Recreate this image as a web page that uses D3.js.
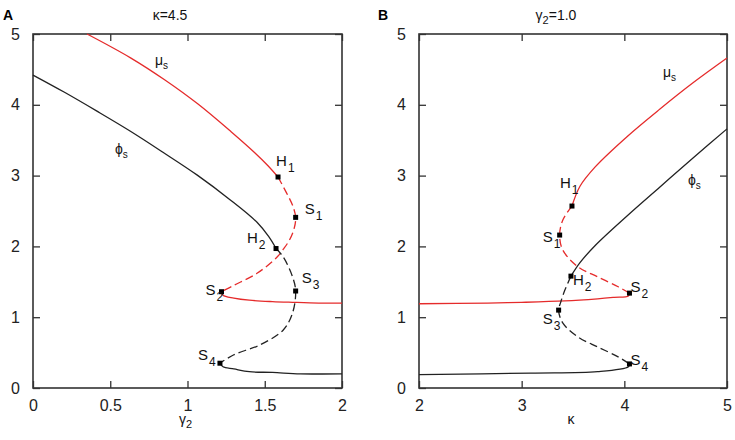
<!DOCTYPE html>
<html>
<head>
<meta charset="utf-8">
<script src="https://cdn.jsdelivr.net/npm/d3@7"></script>
<style>
  body { margin: 0; background: #fff; }
  svg { font-family: "Liberation Sans", Arial, sans-serif; }
</style>
</head>
<body>
<div class="chart"></div>
<script>
// panel A: kappa = 4.5, x = gamma2
const muA_stable1 = [[0.35,5.0],[0.634,4.66],[0.854,4.35],[1.068,4.01],[1.282,3.62],[1.437,3.32],[1.521,3.14],[1.586,2.98]];
const muA_unstable = [[1.586,2.98],[1.64,2.76],[1.68,2.58],[1.70,2.41],[1.69,2.25],[1.66,2.09],[1.62,1.96],[1.58,1.85],[1.45,1.62],[1.30,1.45],[1.22,1.36]];
const muA_stable2 = [[1.22,1.36],[1.23,1.31],[1.30,1.27],[1.40,1.24],[1.55,1.22],[1.68,1.21],[1.85,1.20],[2.0,1.20]];
const phiA_stable1 = [[0,4.42],[0.201,4.18],[0.414,3.91],[0.628,3.63],[0.841,3.33],[1.061,3.01],[1.275,2.66],[1.45,2.34],[1.525,2.14],[1.573,1.97]];
const phiA_unstable = [[1.573,1.97],[1.62,1.85],[1.68,1.57],[1.70,1.37],[1.68,1.06],[1.62,0.82],[1.47,0.61],[1.30,0.47],[1.21,0.35]];
const phiA_stable2 = [[1.21,0.35],[1.23,0.30],[1.30,0.27],[1.40,0.23],[1.55,0.22],[1.73,0.20],[2.0,0.20]];
const pointsA = [
  {name: 'H', sub: '1', x: 1.586, y: 2.98},
  {name: 'S', sub: '1', x: 1.70, y: 2.41},
  {name: 'H', sub: '2', x: 1.573, y: 1.97},
  {name: 'S', sub: '2', x: 1.22, y: 1.36},
  {name: 'S', sub: '3', x: 1.70, y: 1.37},
  {name: 'S', sub: '4', x: 1.21, y: 0.35}
];

// panel B: gamma2 = 1.0, x = kappa
const muB_stable1 = [[5,4.66],[4.669,4.31],[4.347,3.94],[4.026,3.55],[3.714,3.12],[3.568,2.85],[3.49,2.57]];
const muB_unstable = [[3.49,2.57],[3.40,2.37],[3.37,2.16],[3.40,1.95],[3.55,1.71],[3.74,1.57],[3.94,1.43],[4.05,1.34]];
const muB_stable2 = [[4.05,1.34],[4.04,1.30],[3.90,1.28],[3.74,1.26],[3.42,1.23],[3.0,1.21],[2.67,1.20],[2,1.19]];
const phiB_stable1 = [[5,3.66],[4.669,3.25],[4.347,2.84],[4.026,2.43],[3.714,2.01],[3.568,1.77],[3.48,1.58]];
const phiB_unstable = [[3.48,1.58],[3.42,1.38],[3.38,1.21],[3.36,1.10],[3.40,0.92],[3.55,0.72],[3.74,0.58],[3.94,0.44],[4.05,0.34]];
const phiB_stable2 = [[4.05,0.34],[4.04,0.30],[3.74,0.23],[3.09,0.21],[2,0.19]];
const pointsB = [
  {name: 'H', sub: '1', x: 3.49, y: 2.57},
  {name: 'S', sub: '1', x: 3.37, y: 2.16},
  {name: 'H', sub: '2', x: 3.48, y: 1.58},
  {name: 'S', sub: '2', x: 4.05, y: 1.34},
  {name: 'S', sub: '3', x: 3.36, y: 1.10},
  {name: 'S', sub: '4', x: 4.05, y: 0.34}
];

const ticksA = [0, 0.5, 1, 1.5, 2];
const ticksB = [2, 3, 4, 5];
const ticksY = [0, 1, 2, 3, 4, 5];

const red = '#e52b2b';
const black = '#222';

const svg = d3.select('.chart')
  .append('svg')
  .attr('width', 735)
  .attr('height', 440);

const yScale = d3.scaleLinear().domain([0, 5]).range([388, 34]);

function panel(opt) {
  const x = d3.scaleLinear().domain(opt.domain).range(opt.range);
  const g = svg.append('g');

  const xAxis = d3.axisBottom(x).tickValues(opt.ticks).tickFormat(d3.format('')).tickSizeInner(-7).tickSizeOuter(0).tickPadding(12);
  const xTop = d3.axisTop(x).tickValues(opt.ticks).tickFormat('').tickSizeInner(-7).tickSizeOuter(0);
  const yAxis = d3.axisLeft(yScale).tickValues(ticksY).tickFormat(d3.format('')).tickSizeInner(-7).tickSizeOuter(0).tickPadding(13);
  const yRight = d3.axisRight(yScale).tickValues(ticksY).tickFormat('').tickSizeInner(-7).tickSizeOuter(0);

  g.append('g').attr('transform', 'translate(0,388)').call(xAxis);
  g.append('g').attr('transform', 'translate(0,34)').call(xTop);
  g.append('g').attr('transform', `translate(${opt.range[0]},0)`).call(yAxis);
  g.append('g').attr('transform', `translate(${opt.range[1]},0)`).call(yRight);

  g.selectAll('.domain').remove();
  g.selectAll('.tick line').attr('stroke', '#333').attr('stroke-width', 1.3);
  g.selectAll('.tick text').attr('font-size', 16).attr('fill', '#222')
    .attr('font-family', '"Liberation Sans", Arial, sans-serif');

  g.append('rect')
    .attr('x', opt.range[0]).attr('y', 34)
    .attr('width', opt.range[1] - opt.range[0]).attr('height', 354)
    .attr('fill', 'none').attr('stroke', '#333').attr('stroke-width', 1.6);

  const line = d3.line()
    .curve(d3.curveCatmullRom)
    .x(d => x(d[0]))
    .y(d => yScale(d[1]));

  opt.curves.forEach(c => {
    g.append('path')
      .datum(c.data)
      .attr('d', line)
      .attr('fill', 'none')
      .attr('stroke', c.color)
      .attr('stroke-width', 1.3)
      .attr('stroke-dasharray', c.dashed ? '8,4' : null);
  });

  g.selectAll('.marker')
    .data(opt.points)
    .enter()
    .append('rect')
    .attr('x', d => x(d.x) - 2.5)
    .attr('y', d => yScale(d.y) - 2.5)
    .attr('width', 5).attr('height', 5)
    .attr('fill', '#000');

  opt.points.forEach((p, i) => {
    const off = opt.labelOffsets[i];
    const t = g.append('text')
      .attr('x', x(p.x) + off[0])
      .attr('y', yScale(p.y) + off[1])
      .attr('font-size', 15)
      .attr('fill', '#111');
    t.append('tspan').text(p.name);
    t.append('tspan').attr('font-size', 12).attr('dx', 1).attr('dy', 6).text(p.sub);
  });

  opt.curveLabels.forEach(c => {
    const t = g.append('text')
      .attr('x', c.x).attr('y', c.y)
      .attr('font-size', 14)
      .attr('fill', '#111');
    t.append('tspan').text(c.text);
    t.append('tspan').attr('font-size', 10).attr('dy', 4).text('s');
  });

  g.append('text')
    .attr('x', opt.range[0] + 137).attr('y', 20)
    .attr('text-anchor', 'middle')
    .attr('font-size', 14)
    .attr('fill', '#111')
    .call(t => {
      t.append('tspan').text(opt.title[0]);
      if (opt.title[1]) t.append('tspan').attr('font-size', 11).attr('dy', 4).text(opt.title[1]);
      t.append('tspan').attr('dy', opt.title[1] ? -4 : 0).text(opt.title[2]);
    });

  g.append('text')
    .attr('x', opt.panelX).attr('y', 20)
    .attr('font-size', 14)
    .attr('font-weight', 'bold')
    .attr('fill', '#000')
    .text(opt.letter);

  const xl = g.append('text')
    .attr('x', (opt.range[0] + opt.range[1]) / 2 - 2).attr('y', 424)
    .attr('text-anchor', 'middle')
    .attr('font-size', 14)
    .attr('fill', '#111');
  xl.append('tspan').text(opt.xlabel[0]);
  if (opt.xlabel[1]) xl.append('tspan').attr('font-size', 11).attr('dy', 4).text(opt.xlabel[1]);
}

panel({
  domain: [0, 2], range: [33, 342], ticks: ticksA,
  curves: [
    {data: muA_stable1, color: red}, {data: muA_unstable, color: red, dashed: true}, {data: muA_stable2, color: red},
    {data: phiA_stable1, color: black}, {data: phiA_unstable, color: black, dashed: true}, {data: phiA_stable2, color: black}
  ],
  points: pointsA,
  labelOffsets: [[-2,-11],[9,-3],[-29,-6],[-16,3],[6,-8],[-22,-3]],
  curveLabels: [{text: 'μ', x: 155, y: 65}, {text: 'ϕ', x: 115, y: 154}],
  title: ['κ=4.5', '', ''],
  letter: 'A', panelX: 3,
  xlabel: ['γ', '2']
});

panel({
  domain: [2, 5], range: [419, 727], ticks: ticksB,
  curves: [
    {data: muB_stable1, color: red}, {data: muB_unstable, color: red, dashed: true}, {data: muB_stable2, color: red},
    {data: phiB_stable1, color: black}, {data: phiB_unstable, color: black, dashed: true}, {data: phiB_stable2, color: black}
  ],
  points: pointsB,
  labelOffsets: [[-12,-18],[-17,7],[2,9],[1,-1],[-16,14],[1,1]],
  curveLabels: [{text: 'μ', x: 663, y: 77}, {text: 'ϕ', x: 688, y: 185}],
  title: ['γ', '2', '=1.0'],
  letter: 'B', panelX: 378,
  xlabel: ['κ', '']
});
</script>
</body>
</html>
